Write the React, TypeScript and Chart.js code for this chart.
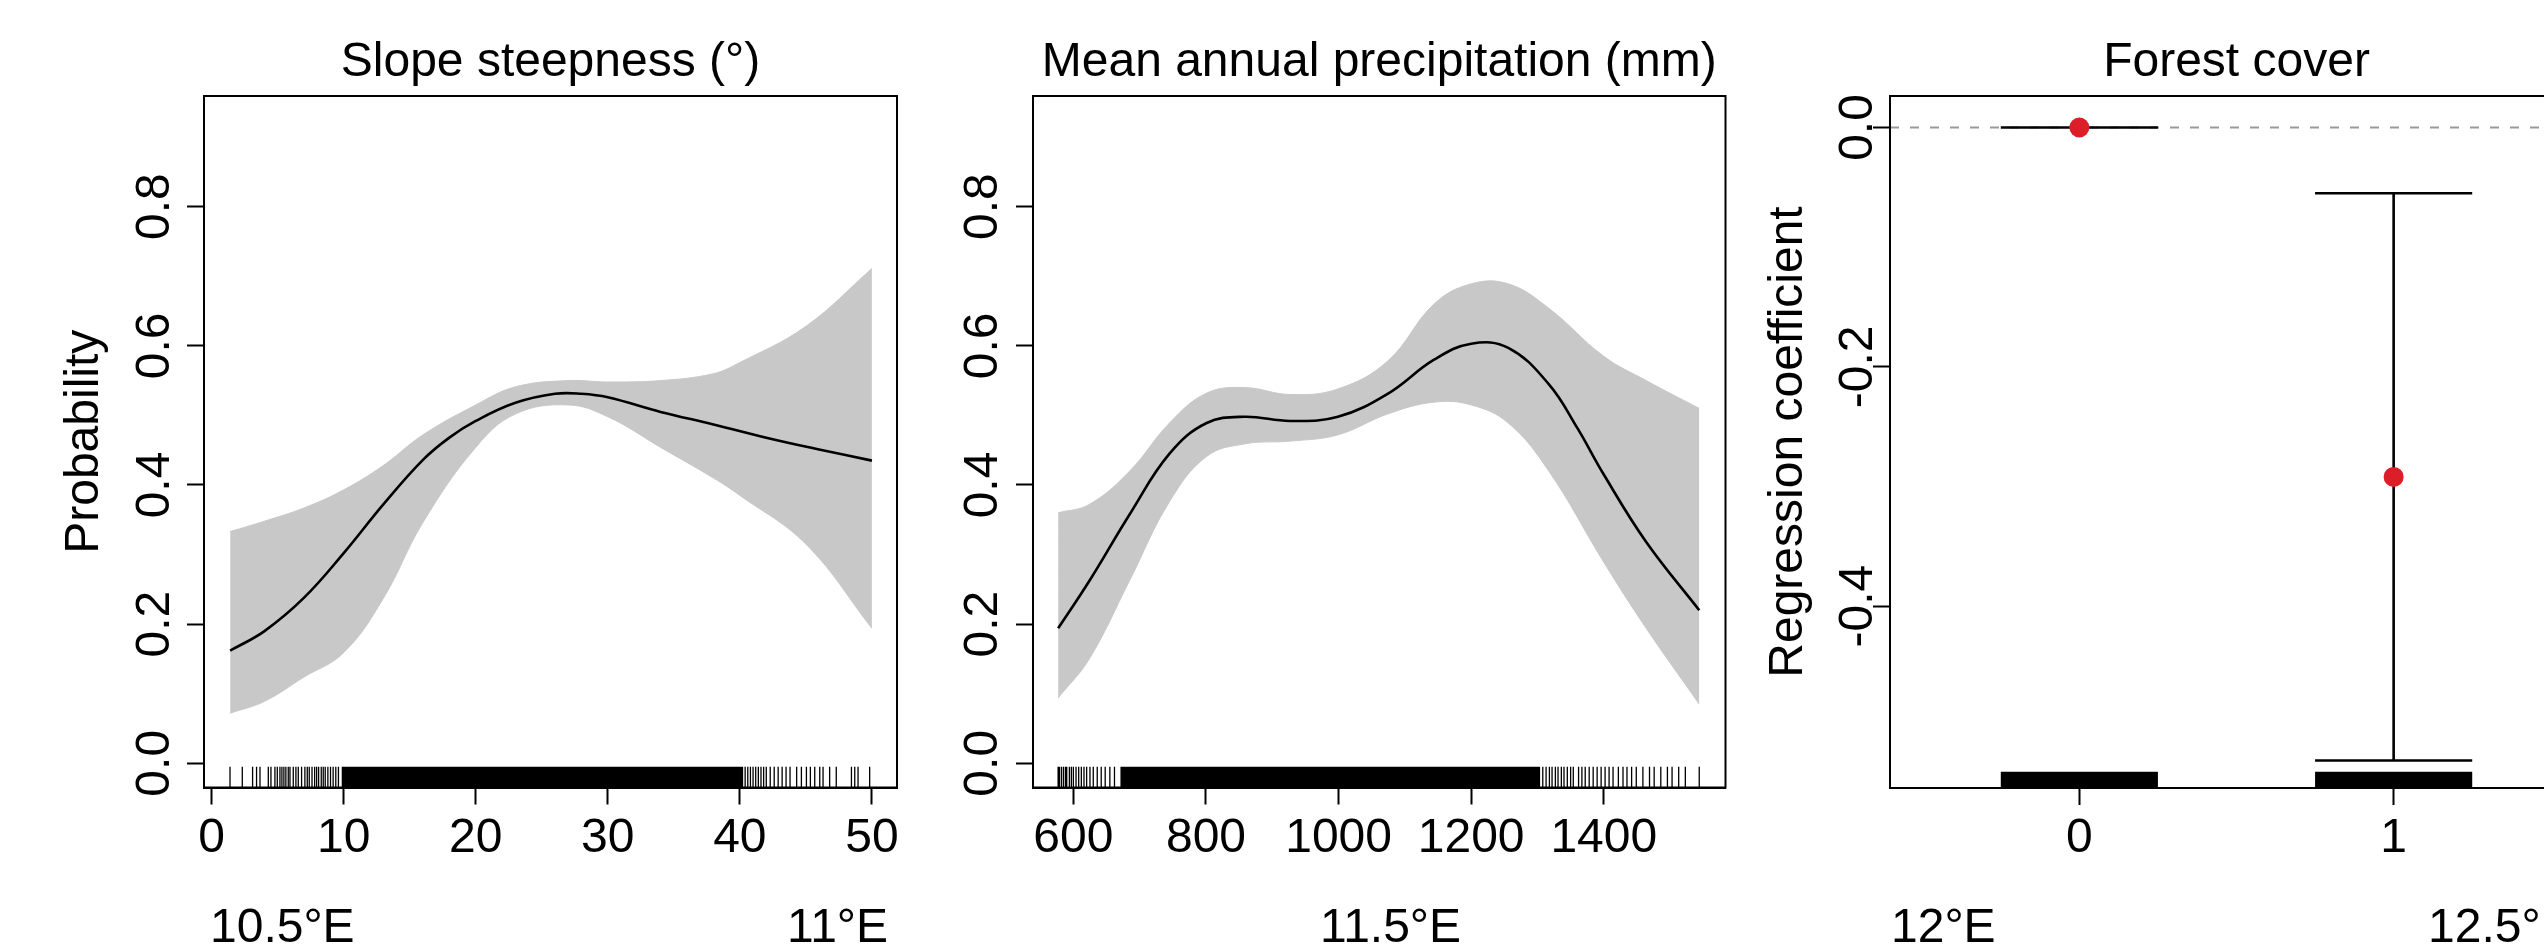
import React, { useEffect, useRef } from 'react';
import { Chart, registerables } from 'chart.js';

Chart.register(...registerables);

const FONT = '"Liberation Sans", Arial, Helvetica, sans-serif';
const FS = 48;
const BAND = '#c8c8c8';
const RED = '#dc1e28';

// ---------- Panel 1: Slope steepness ----------
const SLOPE_FIT_X = [1.4, 4, 7, 10, 13, 16, 18, 20, 23, 26, 28, 30, 34, 38, 42, 46, 50];
const SLOPE_FIT = [0.162, 0.19, 0.238, 0.302, 0.372, 0.436, 0.468, 0.492, 0.518, 0.531, 0.531, 0.526, 0.505, 0.487, 0.468, 0.451, 0.435];
const SLOPE_BAND_X = [1.4, 4, 7, 10, 13, 16, 20, 23, 27, 30, 34, 38, 40, 45, 50];
const SLOPE_UPPER = [0.333, 0.348, 0.367, 0.393, 0.428, 0.472, 0.515, 0.541, 0.55, 0.548, 0.55, 0.56, 0.576, 0.628, 0.711];
const SLOPE_LOWER = [0.072, 0.089, 0.124, 0.159, 0.237, 0.346, 0.454, 0.502, 0.515, 0.498, 0.454, 0.41, 0.385, 0.315, 0.194];
const SLOPE_RUG = [1.39, 2.32, 3.1, 3.4, 3.66, 4.29, 4.49, 4.79, 4.97, 5.17, 5.32, 5.47, 5.62, 5.8, 5.93, 6.18, 6.38, 6.56, 6.81, 7.06, 7.24, 7.39, 7.6, 7.8, 7.95, 8.1, 8.3, 8.45, 8.6, 8.8, 9.0, 9.2, 9.4, 9.6, 40.4, 40.6, 40.8, 41.0, 41.2, 41.4, 41.6, 41.8, 42.0, 42.3, 42.6, 42.9, 43.2, 43.5, 43.8, 44.3, 44.66, 45.04, 45.34, 45.67, 46.05, 46.3, 46.8, 47.3, 48.45, 48.7, 48.95, 49.83];
const SLOPE_RUG_DENSE = [[9.85, 40.25]];
const SLOPE_TICKS = [0, 10, 20, 30, 40, 50];

// ---------- Panel 2: Mean annual precipitation ----------
const PREC_FIT_X = [577, 624, 685, 745, 801, 858, 927, 999, 1074, 1144, 1200, 1256, 1317, 1360, 1400, 1464, 1544];
const PREC_FIT = [0.194, 0.262, 0.358, 0.445, 0.489, 0.498, 0.492, 0.498, 0.531, 0.58, 0.603, 0.597, 0.545, 0.482, 0.415, 0.318, 0.22];
const PREC_BAND_X = [577, 624, 685, 745, 801, 858, 927, 999, 1074, 1144, 1200, 1256, 1317, 1400, 1464, 1544];
const PREC_UPPER = [0.36, 0.372, 0.42, 0.489, 0.532, 0.54, 0.53, 0.538, 0.578, 0.66, 0.689, 0.689, 0.654, 0.585, 0.55, 0.51];
const PREC_LOWER = [0.094, 0.15, 0.263, 0.376, 0.441, 0.459, 0.463, 0.472, 0.502, 0.519, 0.515, 0.489, 0.42, 0.289, 0.194, 0.085];
const PREC_RUG = [577, 579, 582, 585, 588, 590, 594, 597, 600, 604, 608, 612, 616, 620, 625, 630, 636, 642, 648, 655, 662, 1308, 1313, 1318, 1322, 1327, 1331, 1336, 1340, 1345, 1350, 1354, 1362, 1367, 1372, 1378, 1384, 1390, 1396, 1402, 1408, 1414, 1422, 1429, 1435, 1442, 1449, 1459, 1469, 1476, 1486, 1496, 1503, 1513, 1523, 1544];
const PREC_RUG_DENSE = [[671, 1304]];
const PREC_TICKS = [600, 800, 1000, 1200, 1400];

const PROB_TICKS = [0, 0.2, 0.4, 0.6, 0.8];
const PROB_LABELS = ['0.0', '0.2', '0.4', '0.6', '0.8'];

// ---------- Panel 3: Forest cover ----------
const FC_LEVELS = [0, 1];
const FC_LEVEL_LABELS = ['0', '1'];
const FC_EST = [0, -0.292];
const FC_LOW = [0, -0.529];
const FC_HIGH = [0, -0.055];
const FC_RUG_TOP = [-0.5384, -0.5384];
const COEF_TICKS = [0, -0.2, -0.4];
const COEF_LABELS = ['0.0', '-0.2', '-0.4'];

// ---------- Text outside the charts ----------
const LON_LABELS = ['10.5°E', '11°E', '11.5°E', '12°E', '12.5°E'];
const LON_LEFT = [210, 787, 1320, 1891, 2428];

type Decor = {
  title: string;
  yTicks: number[];
  yLabels: string[];
  yLabelGap: number;
  yTitle?: string;
  yTitleGap?: number;
  rug?: number[];
  rugDense?: number[][];
  zeroLine?: boolean;
};

function decorPlugin(d: Decor) {
  return {
    id: 'decor',
    beforeDatasetsDraw(chart: any) {
      if (!d.zeroLine) return;
      const { ctx, chartArea: a } = chart;
      const py = chart.scales.y.getPixelForValue(0);
      ctx.save();
      ctx.strokeStyle = '#9a9a9a';
      ctx.lineWidth = 2;
      ctx.setLineDash([9, 11]);
      ctx.beginPath();
      ctx.moveTo(a.left, py);
      ctx.lineTo(a.right, py);
      ctx.stroke();
      ctx.restore();
    },
    afterDatasetsDraw(chart: any) {
      const { ctx, chartArea: a } = chart;
      const xs = chart.scales.x;
      const h = (a.bottom - a.top) * 0.03;
      ctx.save();
      ctx.fillStyle = '#000';
      ctx.strokeStyle = '#000';
      if (d.rugDense) {
        for (const [s, e] of d.rugDense) {
          const p1 = xs.getPixelForValue(s);
          const p2 = xs.getPixelForValue(e);
          ctx.fillRect(p1, a.bottom - h, p2 - p1, h);
        }
      }
      if (d.rug) {
        ctx.lineWidth = 1.3;
        ctx.beginPath();
        for (const v of d.rug) {
          const px = xs.getPixelForValue(v);
          ctx.moveTo(px, a.bottom);
          ctx.lineTo(px, a.bottom - h);
        }
        ctx.stroke();
      }
      ctx.restore();
    },
    afterDraw(chart: any) {
      const { ctx, chartArea: a } = chart;
      const ys = chart.scales.y;
      ctx.save();
      ctx.strokeStyle = '#000';
      ctx.lineWidth = 2;
      ctx.strokeRect(a.left, a.top, a.right - a.left, a.bottom - a.top);
      ctx.fillStyle = '#000';
      ctx.font = `${FS}px ${FONT}`;
      ctx.textAlign = 'center';
      ctx.textBaseline = 'alphabetic';
      ctx.fillText(d.title, (a.left + a.right) / 2, a.top - 20);
      d.yTicks.forEach((t, i) => {
        const py = ys.getPixelForValue(t);
        ctx.save();
        ctx.translate(a.left - d.yLabelGap, py);
        ctx.rotate(-Math.PI / 2);
        ctx.fillText(d.yLabels[i], 0, 0);
        ctx.restore();
      });
      if (d.yTitle) {
        ctx.save();
        ctx.translate(a.left - (d.yTitleGap || 100), (a.top + a.bottom) / 2);
        ctx.rotate(-Math.PI / 2);
        ctx.fillText(d.yTitle, 0, 0);
        ctx.restore();
      }
      ctx.restore();
    },
  };
}

function xAxis(min: number, max: number, ticks: number[], labels?: string[]) {
  return {
    type: 'linear',
    min,
    max,
    offset: false,
    afterBuildTicks: (s: any) => {
      s.ticks = ticks.map((v) => ({ value: v }));
    },
    afterFit: (s: any) => {
      s.height = 110;
      s.paddingLeft = 0;
      s.paddingRight = 0;
    },
    grid: { drawOnChartArea: false, drawTicks: true, tickLength: 17, tickWidth: 2, tickColor: '#000', offset: false },
    border: { display: true, color: '#000', width: 2 },
    ticks: {
      color: '#000',
      font: { family: FONT, size: FS },
      padding: 5,
      maxRotation: 0,
      minRotation: 0,
      autoSkip: false,
      callback: (v: any) => {
        if (labels) {
          const i = ticks.indexOf(v);
          return i >= 0 ? labels[i] : '';
        }
        return String(v);
      },
    },
  };
}

function yAxis(min: number, max: number, ticks: number[]) {
  return {
    type: 'linear',
    min,
    max,
    afterBuildTicks: (s: any) => {
      s.ticks = ticks.map((v) => ({ value: v }));
    },
    afterFit: (s: any) => {
      s.width = 20;
      s.paddingTop = 0;
      s.paddingBottom = 0;
    },
    grid: { drawOnChartArea: false, drawTicks: true, tickLength: 17, tickWidth: 2, tickColor: '#000' },
    border: { display: true, color: '#000', width: 2 },
    ticks: { display: false },
  };
}

function pts(xs: number[], ys: number[]) {
  return xs.map((x, i) => ({ x, y: ys[i] }));
}

function smoothPanel(opts: {
  fx: number[]; fit: number[]; bx: number[]; up: number[]; lo: number[];
  xmin: number; xmax: number; ticks: number[]; padding: any; decor: Decor;
}) {
  return {
    type: 'line',
    data: {
      datasets: [
        // index 0 is painted last (on top)
        { data: pts(opts.fx, opts.fit), fill: false, borderColor: '#000', borderWidth: 2.6, pointRadius: 0, tension: 0.4 },
        { data: pts(opts.bx, opts.up), fill: '+1', backgroundColor: BAND, borderColor: BAND, borderWidth: 1, pointRadius: 0, tension: 0.4 },
        { data: pts(opts.bx, opts.lo), fill: false, borderColor: BAND, borderWidth: 1, pointRadius: 0, tension: 0.4 },
      ],
    },
    options: {
      animation: false,
      responsive: false,
      devicePixelRatio: 1,
      events: [],
      layout: { padding: opts.padding },
      plugins: { legend: { display: false }, tooltip: { enabled: false }, title: { display: false } },
      scales: {
        x: xAxis(opts.xmin, opts.xmax, opts.ticks),
        y: yAxis(-0.0348, 0.959, PROB_TICKS),
      },
    },
    plugins: [decorPlugin(opts.decor)],
  };
}

const HALF = 0.25;

function forestConfig() {
  const whisker: any[] = [];
  FC_LEVELS.forEach((c, i) => {
    whisker.push({ x: c - HALF, y: FC_HIGH[i] }, { x: c + HALF, y: FC_HIGH[i] }, { x: c, y: null });
    whisker.push({ x: c, y: FC_HIGH[i] }, { x: c, y: FC_LOW[i] }, { x: c, y: null });
    whisker.push({ x: c - HALF, y: FC_LOW[i] }, { x: c + HALF, y: FC_LOW[i] }, { x: c, y: null });
  });
  const Y3MIN = -0.552;
  const Y3MAX = 0.0263;
  return {
    type: 'line',
    data: {
      datasets: [
        {
          type: 'line',
          data: pts(FC_LEVELS, FC_EST),
          showLine: false,
          pointRadius: 10,
          pointBackgroundColor: RED,
          pointBorderColor: RED,
          pointBorderWidth: 0,
        },
        {
          type: 'line',
          data: whisker,
          spanGaps: false,
          borderColor: '#000',
          borderWidth: 2.6,
          pointRadius: 0,
          fill: false,
        },
        {
          type: 'bar',
          data: FC_LEVELS.map((c, i) => ({ x: c, y: [Y3MIN, FC_RUG_TOP[i]] })),
          backgroundColor: '#000',
          borderWidth: 0,
          barPercentage: 0.5,
          categoryPercentage: 1,
          grouped: false,
        },
      ],
    },
    options: {
      animation: false,
      responsive: false,
      devicePixelRatio: 1,
      events: [],
      layout: { padding: { left: 110, right: 57, top: 96, bottom: 50 } },
      plugins: { legend: { display: false }, tooltip: { enabled: false }, title: { display: false } },
      scales: {
        x: xAxis(-0.6025, 1.6025, FC_LEVELS, FC_LEVEL_LABELS),
        y: yAxis(Y3MIN, Y3MAX, COEF_TICKS),
      },
    },
    plugins: [
      decorPlugin({
        title: 'Forest cover',
        yTicks: COEF_TICKS,
        yLabels: COEF_LABELS,
        yLabelGap: 18,
        yTitle: 'Regression coefficient',
        yTitleGap: 88,
        zeroLine: true,
      }),
    ],
  };
}

function ChartCanvas({ left, width, make }: { left: number; width: number; make: () => any }) {
  const ref = useRef<HTMLCanvasElement>(null);
  useEffect(() => {
    const chart = new Chart(ref.current as HTMLCanvasElement, make());
    return () => chart.destroy();
  }, []);
  return (
    <canvas
      ref={ref}
      width={width}
      height={948}
      style={{ position: 'absolute', left, top: 0, width, height: 948 }}
    />
  );
}

export default function App() {
  return (
    <div
      style={{
        position: 'fixed',
        left: 0,
        top: 0,
        width: 2544,
        height: 948,
        overflow: 'hidden',
        background: '#fff',
      }}
    >
      <ChartCanvas
        left={0}
        width={920}
        make={() =>
          smoothPanel({
            fx: SLOPE_FIT_X, fit: SLOPE_FIT, bx: SLOPE_BAND_X, up: SLOPE_UPPER, lo: SLOPE_LOWER,
            xmin: -0.58, xmax: 51.9, ticks: SLOPE_TICKS,
            padding: { left: 184, right: 23, top: 96, bottom: 50.5 },
            decor: {
              title: 'Slope steepness (°)',
              yTicks: PROB_TICKS, yLabels: PROB_LABELS, yLabelGap: 35,
              yTitle: 'Probability', yTitleGap: 106,
              rug: SLOPE_RUG, rugDense: SLOPE_RUG_DENSE,
            },
          })
        }
      />
      <ChartCanvas
        left={920}
        width={840}
        make={() =>
          smoothPanel({
            fx: PREC_FIT_X, fit: PREC_FIT, bx: PREC_BAND_X, up: PREC_UPPER, lo: PREC_LOWER,
            xmin: 539.1, xmax: 1583.6, ticks: PREC_TICKS,
            padding: { left: 93, right: 34.5, top: 96, bottom: 50.5 },
            decor: {
              title: 'Mean annual precipitation (mm)',
              yTicks: PROB_TICKS, yLabels: PROB_LABELS, yLabelGap: 36,
              rug: PREC_RUG, rugDense: PREC_RUG_DENSE,
            },
          })
        }
      />
      <ChartCanvas left={1760} width={880} make={forestConfig} />
      {LON_LABELS.map((t, i) => (
        <div
          key={t}
          style={{
            position: 'absolute',
            left: LON_LEFT[i],
            top: 902,
            fontFamily: FONT,
            fontSize: FS,
            lineHeight: '48px',
            whiteSpace: 'nowrap',
            color: '#000',
          }}
        >
          {t}
        </div>
      ))}
    </div>
  );
}
